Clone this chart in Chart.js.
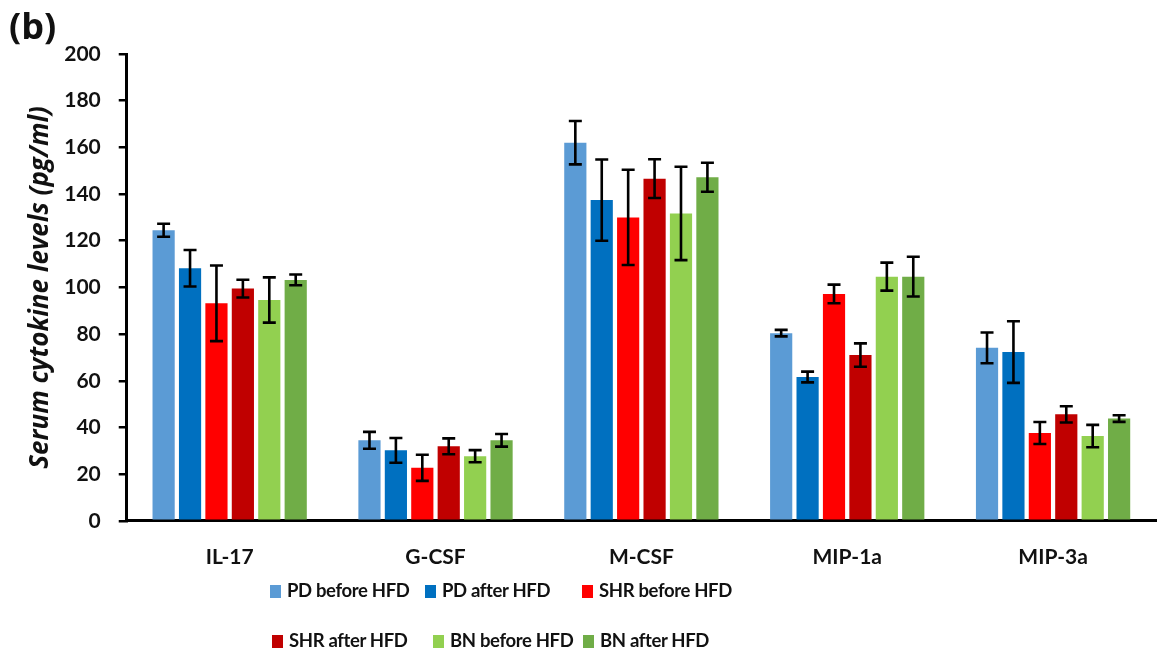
<!DOCTYPE html>
<html lang="en">
<head>
    <meta charset="UTF-8">
    <title>Serum cytokine levels</title>
    <script src="https://cdn.jsdelivr.net/npm/chart.js"></script>
    <style>
        body { margin: 0; background: #fff; font-family: Lato, sans-serif; }
        #wrap { position: relative; width: 1160px; height: 652px; }
        #panel { position: absolute; left: 9px; top: 5px; font-family: 'Open Sans', sans-serif; font-size: 36px; line-height: 42px; font-weight: bold; color: #111; }
        .item { position: absolute; white-space: nowrap; font-size: 18.5px; letter-spacing: -0.35px; font-weight: bold; color: #111; line-height: 24px; }
        .item span.box { display: inline-block; width: 11px; height: 13px; margin-right: 6px; vertical-align: -1px; }
    </style>
</head>
<body>
<div id="wrap">
    <canvas id="cytokineChart" width="1160" height="652"></canvas>
    <div id="panel">(b)</div>
    <div id="legend"></div>
</div>

<script>
// categories and series values (pg/ml)
const categories = ['IL-17', 'G-CSF', 'M-CSF', 'MIP-1a', 'MIP-3a'];
const seriesNames = ['PD before HFD', 'PD after HFD', 'SHR before HFD', 'SHR after HFD', 'BN before HFD', 'BN after HFD'];
const seriesColors = ['#5B9BD5', '#0070C0', '#FF0000', '#C00000', '#92D050', '#70AD47'];

const pdBefore  = [124.5, 34.5, 162.0, 80.4, 74.1];
const pdAfter   = [108.2, 30.2, 137.4, 61.6, 72.3];
const shrBefore = [93.2, 22.7, 130.0, 97.2, 37.6];
const shrAfter  = [99.5, 31.9, 146.6, 71.0, 45.6];
const bnBefore  = [94.6, 27.7, 131.7, 104.6, 36.3];
const bnAfter   = [103.2, 34.5, 147.2, 104.6, 43.8];

// error bar half-lengths
const pdBeforeErr  = [2.8, 3.6, 9.3, 1.4, 6.6];
const pdAfterErr   = [7.8, 5.3, 17.4, 2.3, 13.2];
const shrBeforeErr = [16.2, 5.6, 20.4, 4.0, 4.7];
const shrAfterErr  = [3.8, 3.4, 8.3, 5.0, 3.5];
const bnBeforeErr  = [9.7, 2.6, 20.0, 6.0, 4.8];
const bnAfterErr   = [2.3, 2.7, 6.2, 8.5, 1.4];

const yTicks = [0, 20, 40, 60, 80, 100, 120, 140, 160, 180, 200];

const values = [pdBefore, pdAfter, shrBefore, shrAfter, bnBefore, bnAfter];
const errors = [pdBeforeErr, pdAfterErr, shrBeforeErr, shrAfterErr, bnBeforeErr, bnAfterErr];

const datasets = seriesNames.map((name, i) => ({
    label: name,
    data: values[i],
    errors: errors[i],
    backgroundColor: seriesColors[i],
    borderWidth: 0,
    barPercentage: 0.84,
    categoryPercentage: 0.77
}));

// draws the +/- error whiskers from the y scale
const errorBars = {
    id: 'errorBars',
    afterDatasetsDraw(chart) {
        const ctx = chart.ctx;
        const y = chart.scales.y;
        ctx.save();
        ctx.strokeStyle = '#000';
        ctx.lineWidth = 2.6;
        chart.data.datasets.forEach((ds, i) => {
            chart.getDatasetMeta(i).data.forEach((bar, j) => {
                const v = ds.data[j], e = ds.errors[j];
                const top = y.getPixelForValue(v + e);
                const bot = y.getPixelForValue(v - e);
                ctx.beginPath();
                ctx.moveTo(bar.x, top); ctx.lineTo(bar.x, bot);
                ctx.moveTo(bar.x - 6.5, top); ctx.lineTo(bar.x + 6.5, top);
                ctx.moveTo(bar.x - 6.5, bot); ctx.lineTo(bar.x + 6.5, bot);
                ctx.stroke();
            });
        });
        ctx.restore();
    }
};

const ctx = document.getElementById('cytokineChart').getContext('2d');
new Chart(ctx, {
    type: 'bar',
    data: { labels: categories, datasets: datasets },
    options: {
        responsive: false,
        animation: false,
        layout: { padding: { top: 54, left: 25, right: 4, bottom: 58 } },
        plugins: {
            legend: { display: false },
            tooltip: { enabled: false }
        },
        scales: {
            x: {
                grid: { display: false, drawTicks: false },
                border: { display: true, color: '#000', width: 3 },
                ticks: { color: '#111', padding: 24, font: { family: 'Lato', size: 21, weight: 'bold' } }
            },
            y: {
                min: 0,
                max: 200,
                afterBuildTicks: axis => { axis.ticks = yTicks.map(v => ({ value: v })); },
                grid: { drawOnChartArea: false, drawTicks: true, tickLength: 8, color: '#000', lineWidth: 2.5 },
                border: { display: true, color: '#000', width: 3 },
                ticks: { color: '#111', padding: 18, font: { family: 'Lato', size: 21, weight: 'bold' } },
                title: {
                    display: true,
                    text: 'Serum cytokine levels (pg/ml)',
                    color: '#111',
                    padding: { top: 0, bottom: -10 },
                    font: { family: 'Open Sans', size: 26, weight: 'bold', style: 'italic' }
                }
            }
        }
    },
    plugins: [errorBars]
});

// legend: three entries per row, two rows (x offsets follow the original layout)
const legendX = [270, 425, 582, 272, 433, 583];
const legendY = [578, 578, 578, 628, 628, 628];
const legend = document.getElementById('legend');
seriesNames.forEach((name, i) => {
    const item = document.createElement('div');
    item.className = 'item';
    item.style.left = legendX[i] + 'px';
    item.style.top = legendY[i] + 'px';
    item.innerHTML = '<span class="box" style="background:' + seriesColors[i] + '"></span>' + name;
    legend.appendChild(item);
});
</script>
</body>
</html>
